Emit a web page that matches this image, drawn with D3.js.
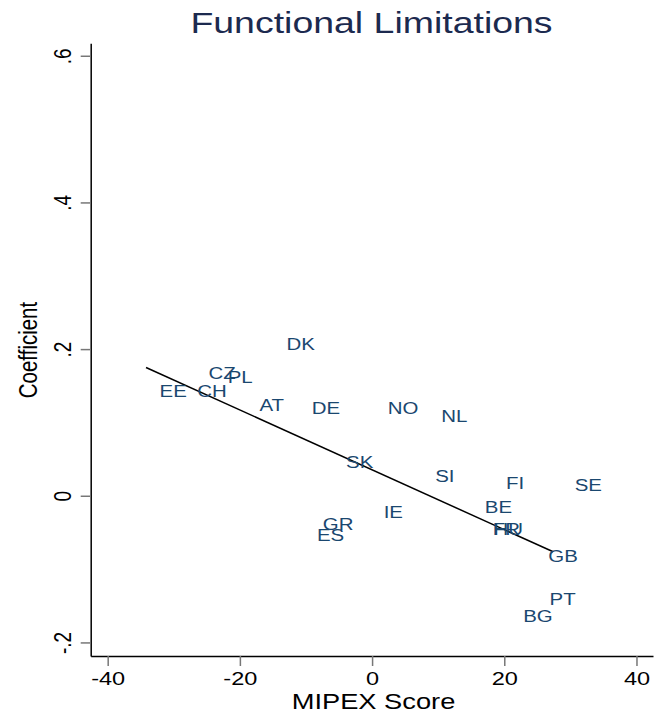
<!DOCTYPE html>
<html>
<head>
<meta charset="utf-8">
<script src="https://cdn.jsdelivr.net/npm/d3@7"></script>
<style>
  body { margin: 0; background: #fff; }
  text { font-family: "Liberation Sans", Arial, sans-serif; }
</style>
</head>
<body>
<div id="root"></div>
<script>
const width = 658,
      height = 713,
      stretch = 1.24   // the picture is a bit wider than tall, text too

// country labels, MIPEX score (centred) and coefficient
const countries = ['DK', 'CZ', 'PL', 'EE', 'CH', 'AT', 'DE', 'NO', 'NL', 'SK', 'SI', 'IE',
                   'GR', 'ES', 'FI', 'SE', 'BE', 'FR', 'HU', 'GB', 'PT', 'BG']
const mipex = [-13.4, -25.2, -22.3, -32.6, -26.9, -17.5, -9.6, 1.9, 10.0, -4.4, 9.1, 1.3,
               -7.9, -8.8, 19.8, 30.2, 16.6, 17.8, 17.9, 26.2, 26.4, 22.4]
const coef = [0.207, 0.167, 0.162, 0.143, 0.143, 0.124, 0.119, 0.120, 0.109, 0.046, 0.027, -0.022,
              -0.038, -0.054, 0.018, 0.014, -0.015, -0.045, -0.046, -0.082, -0.141, -0.164]

// linear fit
const fitRange = [-34.2, 27.4]
const fitIntercept = 0.0354,
      fitSlope = -0.00408

const xTicks = [-40, -20, 0, 20, 40]
const yTicks = [-0.2, 0, 0.2, 0.4, 0.6]

const data = countries.map((c, i) => ({ label: c, x: mipex[i], y: coef[i] }))

const svg = d3.select('#root')
              .append('svg')
              .attr('width', width)
              .attr('height', height)

const xScale = d3.scaleLinear()
                 .domain([-42.57, 42.5])
                 .range([90.7, 653])
const yScale = d3.scaleLinear()
                 .domain([-0.2185, 0.617])
                 .range([656, 43.3])

// stata style: plain hyphen, no leading zero
const hyphen = d3.formatLocale({ decimal: '.', thousands: ',', grouping: [3], currency: ['', ''], minus: '-' })
const fmtX = hyphen.format('d')
const fmtY = d => d === 0 ? '0' : hyphen.format('.1f')(d).replace(/^(-?)0\./, '$1.')

// x axis
const gx = svg.append('g')
              .attr('transform', `translate(0, ${yScale.range()[0]})`)
              .call(d3.axisBottom(xScale).tickValues(xTicks).tickFormat(fmtX).tickSize(10).tickSizeOuter(0))
gx.select('.domain').attr('stroke', '#000').attr('stroke-width', 1.5)
gx.selectAll('.tick line').attr('stroke', '#777').attr('stroke-width', 1.5)
gx.selectAll('.tick text')
  .attr('y', 29).attr('dy', 0)
  .attr('fill', '#000')
  .style('font-size', '19px')
  .attr('transform', `scale(${stretch}, 1)`)

// y axis
const gy = svg.append('g')
              .attr('transform', `translate(${xScale.range()[0]}, 0)`)
              .call(d3.axisLeft(yScale).tickValues(yTicks).tickFormat(fmtY).tickSize(10).tickSizeOuter(0))
gy.select('.domain').attr('stroke', '#000').attr('stroke-width', 1.5)
gy.selectAll('.tick line').attr('stroke', '#777').attr('stroke-width', 1.5)
gy.selectAll('.tick text')
  .attr('x', 0).attr('y', 0).attr('dy', 0)
  .attr('text-anchor', 'middle')
  .attr('fill', '#000')
  .style('font-size', '19px')
  .attr('transform', `translate(-20, 0) scale(${stretch}, 1) rotate(-90)`)

// fitted line
const line = d3.line()
               .x(d => xScale(d))
               .y(d => yScale(fitIntercept + fitSlope * d))
svg.append('path')
   .datum(fitRange)
   .attr('d', line)
   .attr('fill', 'none')
   .attr('stroke', '#000')
   .attr('stroke-width', 1.5)

// marker labels (no markers), at 3 o'clock
svg.append('g')
   .selectAll('text')
   .data(data)
   .enter().append('text')
   .attr('transform', d => `translate(${xScale(d.x) + 3}, ${yScale(d.y)}) scale(${stretch}, 1)`)
   .attr('dy', '0.36em')
   .attr('fill', '#1a476f')
   .style('font-size', '16.5px')
   .text(d => d.label)

// titles
svg.append('text')
   .attr('transform', `translate(371.5, 33) scale(1.27, 1)`)
   .attr('text-anchor', 'middle')
   .attr('fill', '#1c2a4f')
   .style('font-size', '29.5px')
   .text('Functional Limitations')

svg.append('text')
   .attr('transform', `translate(373.5, 709) scale(${stretch}, 1)`)
   .attr('text-anchor', 'middle')
   .attr('fill', '#000')
   .style('font-size', '22px')
   .text('MIPEX Score')

svg.append('text')
   .attr('transform', `translate(37, 350) scale(${stretch}, 1) rotate(-90)`)
   .attr('text-anchor', 'middle')
   .attr('fill', '#000')
   .style('font-size', '20.5px')
   .text('Coefficient')
</script>
</body>
</html>
